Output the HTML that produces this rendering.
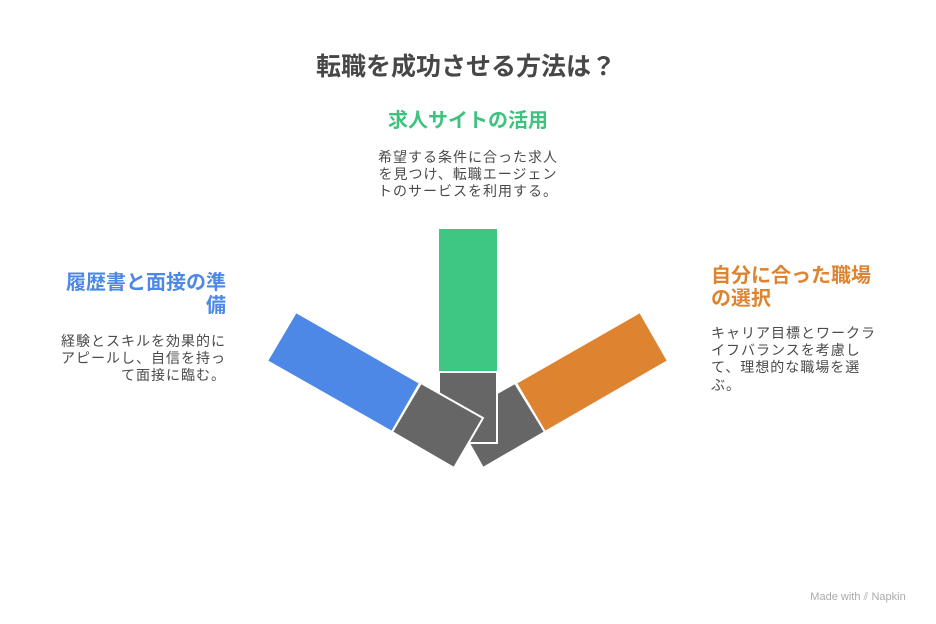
<!DOCTYPE html>
<html><head><meta charset="utf-8"><style>
html,body{margin:0;padding:0;background:#fff;}
svg{display:block;}
text{font-family:"Liberation Sans","Noto Sans CJK JP",sans-serif;}
</style></head><body>
<svg width="936" height="624" viewBox="0 0 936 624">
<text x="466" y="75" text-anchor="middle" font-size="25" font-weight="bold" fill="#474747">転職を成功させる方法は？</text>
<text x="468" y="127" text-anchor="middle" font-size="20" font-weight="bold" fill="#3cc47f">求人サイトの活用</text>
<g font-size="14" letter-spacing="1" fill="#4a4a4a" text-anchor="middle">
<text x="468" y="162">希望する条件に合った求人</text>
<text x="468" y="179">を見つけ、転職エージェン</text>
<text x="468" y="196">トのサービスを利用する。</text>
</g>
<g font-size="20" font-weight="bold" fill="#4d88e6" text-anchor="end">
<text x="226" y="289">履歴書と面接の準</text>
<text x="226" y="312">備</text>
</g>
<g font-size="14" letter-spacing="1" fill="#4a4a4a" text-anchor="end">
<text x="226" y="346">経験とスキルを効果的に</text>
<text x="226" y="363">アピールし、自信を持っ</text>
<text x="226" y="380">て面接に臨む。</text>
</g>
<g font-size="20" font-weight="bold" fill="#de8430">
<text x="711" y="282">自分に合った職場</text>
<text x="711" y="305">の選択</text>
</g>
<g font-size="14" letter-spacing="1" fill="#4a4a4a">
<text x="711" y="338">キャリア目標とワークラ</text>
<text x="711" y="355">イフバランスを考慮し</text>
<text x="711" y="372">て、理想的な職場を選</text>
<text x="711" y="390">ぶ。</text>
</g>
<g stroke="#fff" stroke-width="2" stroke-linejoin="miter">
<polygon points="515,383 545,432 483,468 470,445 453,418" fill="#666"/>
<polygon points="516,383 640,312 668,361 545,432" fill="#de8430"/>
<rect x="439" y="229" width="58" height="142" fill="#3ec683" stroke="none"/>
<rect x="439" y="372" width="58" height="71" fill="#666"/>
<polygon points="267,361 296,312 420,383 392,432" fill="#4d88e6"/>
<polygon points="421,383 483,418 454,468 392,432" fill="#666"/>
</g>
<text x="858" y="600" text-anchor="middle" font-size="11" fill="#aaa">Made with ⫽ Napkin</text>
</svg>
</body></html>
